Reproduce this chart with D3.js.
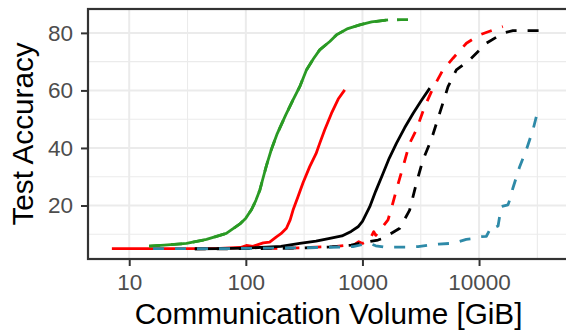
<!DOCTYPE html>
<html>
<head>
<meta charset="utf-8">
<script src="https://cdn.jsdelivr.net/npm/d3@7/dist/d3.min.js"></script>
<style>
  html, body { margin: 0; padding: 0; background: #ffffff; }
  svg { display: block; font-family: "Liberation Sans", Arial, Helvetica, sans-serif; }
</style>
</head>
<body>
<svg id="chart" width="566" height="331"></svg>
<script>
// ---- Data (communication volume in GiB, test accuracy in %) ----
const xTicks = [10, 100, 1000, 10000];
const xTickLabels = ["10", "100", "1000", "10000"];
const xMinor = [3.1623, 31.623, 316.23, 3162.3, 31623];
const yTicks = [20, 40, 60, 80];
const yTickLabels = ["20", "40", "60", "80"];
const yMinor = [10, 30, 50, 70, 90];

const greenSolid = [[14.8,5.9],[20,6.2],[31,6.8],[46,8.2],[68,10.3],[89,13.6],[100,15.6],[112,18.6],[122,21.8],[132,25.4],[140,29.3],[150,33.8],[165,39.3],[186,45],[220,51.5],[254,56.7],[290,61.3],[331,67.1],[380,71],[430,74.1],[525,77],[598,79.3],[750,81.5],[949,82.8],[1200,83.8],[1657,84.5]];
const greenDashedTail = [[2140,84.6],[2700,84.6]];
const redSolid = [[7.1,5.0],[15,5.0],[30,5.0],[60,5.1],[90,5.4],[101,6.1],[115,5.8],[141,7.0],[160,7.3],[183,9.1],[200,10.2],[223,12.1],[240,15],[254,18.4],[280,23],[310,28],[353,33.5],[400,38],[430,41.6],[475,46.3],[542,52],[620,57],[705,60.2]];
const redDashed = [[150,5.0],[300,5.3],[600,5.8],[850,6.4],[930,7.4],[1000,6.8],[1150,8.0],[1250,10.9],[1300,9.6],[1450,12],[1657,15],[1800,20],[1955,25.4],[2230,33.5],[2540,41.6],[2900,46.3],[3420,54.4],[4030,60.8],[4900,67.1],[5980,71.2],[7790,76.4],[10130,79.3],[13200,81],[16000,82.2]];
const blackSolid = [[36.5,4.9],[60,5.0],[100,5.2],[150,5.5],[200,5.8],[290,6.8],[400,7.6],[525,8.6],[667,9.4],[800,11],[917,12.6],[1000,14.5],[1156,19.6],[1300,25],[1504,31.2],[1700,36.5],[1955,41.6],[2300,47],[2716,52],[3200,56.5],[3780,60.8]];
const blackDashed = [[36.5,4.9],[100,5.0],[300,5.2],[525,5.6],[800,6.2],[1000,7.0],[1360,8.0],[1504,8.6],[2090,12.1],[2540,18.4],[2900,27.7],[3300,35.8],[3890,42.8],[4590,52],[5420,61.3],[6390,67.1],[8310,70.6],[11560,76.4],[16040,79.9],[19500,80.8],[29000,80.8],[38900,80.8]];
const blueDashed = [[16,5.0],[30,5.0],[60,5.0],[100,5.1],[200,5.2],[400,5.4],[700,5.6],[830,5.7],[1000,6.4],[1156,6.8],[1300,6.0],[1550,5.5],[2380,5.5],[3000,5.7],[3780,6.3],[4500,6.6],[5600,6.8],[6500,7.3],[7770,8.2],[9000,8.5],[10140,9.1],[11560,9.3],[12340,11.5],[13200,13.2],[14060,12.6],[14560,12.9],[15500,19.6],[16030,19.8],[17700,20.2],[18300,21.9],[19500,26],[22300,33.5],[25400,39.3],[29000,46.3],[31000,50.9],[33100,53.8]];

const xTitle = "Communication Volume [GiB]";
const yTitle = "Test Accuracy";

// ---- Layout ----
const W = 566, H = 331;
const panel = { left: 88, right: 571, top: 9, bottom: 259 };

const svg = d3.select("#chart");
svg.append("rect").attr("width", W).attr("height", H).attr("fill", "#ffffff");

const x = d3.scaleLog().domain([Math.pow(10, 0.6465), Math.pow(10, 4.7885)]).range([panel.left, panel.right]);
const y = d3.scaleLinear().domain([1.4, 88.3]).range([panel.bottom, panel.top]);

svg.append("defs").append("clipPath").attr("id", "clip")
  .append("rect").attr("x", panel.left).attr("y", panel.top)
  .attr("width", panel.right - panel.left).attr("height", panel.bottom - panel.top);

const grid = svg.append("g");
// minor grid
grid.selectAll("line.xm").data(xMinor.filter(v => x(v) > panel.left && x(v) < panel.right)).enter().append("line")
  .attr("x1", d => x(d)).attr("x2", d => x(d)).attr("y1", panel.top).attr("y2", panel.bottom)
  .attr("stroke", "#ebebeb").attr("stroke-width", 1.1);
grid.selectAll("line.ym").data(yMinor.filter(v => y(v) > panel.top && y(v) < panel.bottom)).enter().append("line")
  .attr("y1", d => y(d)).attr("y2", d => y(d)).attr("x1", panel.left).attr("x2", panel.right)
  .attr("stroke", "#ebebeb").attr("stroke-width", 1.1);
// major grid
grid.selectAll("line.xM").data(xTicks).enter().append("line")
  .attr("x1", d => x(d)).attr("x2", d => x(d)).attr("y1", panel.top).attr("y2", panel.bottom)
  .attr("stroke", "#ebebeb").attr("stroke-width", 2);
grid.selectAll("line.yM").data(yTicks).enter().append("line")
  .attr("y1", d => y(d)).attr("y2", d => y(d)).attr("x1", panel.left).attr("x2", panel.right)
  .attr("stroke", "#ebebeb").attr("stroke-width", 2);

// ---- Series ----
const line = d3.line().x(d => x(d[0])).y(d => y(d[1]));
const series = [
  { data: redSolid, color: "#ff0000", dash: null },
  { data: redDashed, color: "#ff0000", dash: "11,11" },
  { data: greenSolid.concat(greenDashedTail), color: "#2a9a24", dash: "11,11" },
  { data: greenSolid, color: "#2a9a24", dash: null },
  { data: blackSolid, color: "#000000", dash: null },
  { data: blackDashed, color: "#000000", dash: "11,11" },
  { data: blueDashed, color: "#2e8aa8", dash: "11,11" }
];
const lines = svg.append("g").attr("clip-path", "url(#clip)");
series.forEach(s => {
  lines.append("path").datum(s.data)
    .attr("d", line)
    .attr("fill", "none")
    .attr("stroke", s.color)
    .attr("stroke-width", 2.8)
    .attr("stroke-linejoin", "round")
    .attr("stroke-dasharray", s.dash);
});

// ---- Panel border ----
svg.append("rect")
  .attr("x", panel.left).attr("y", panel.top)
  .attr("width", panel.right - panel.left).attr("height", panel.bottom - panel.top)
  .attr("fill", "none").attr("stroke", "#333333").attr("stroke-width", 2.2);

// ---- Axes ----
const xAxis = d3.axisBottom(x).tickValues(xTicks).tickFormat((d, i) => xTickLabels[i]).tickSize(7).tickPadding(8);
const gx = svg.append("g").attr("transform", `translate(0,${panel.bottom})`).call(xAxis);
gx.select(".domain").remove();
gx.selectAll(".tick line").attr("stroke", "#333333").attr("stroke-width", 2);
gx.selectAll(".tick text").attr("fill", "#4d4d4d").style("font-size", "22.5px")
  .style("font-family", "Liberation Sans, Arial, sans-serif");

const yAxis = d3.axisLeft(y).tickValues(yTicks).tickFormat((d, i) => yTickLabels[i]).tickSize(7).tickPadding(8);
const gy = svg.append("g").attr("transform", `translate(${panel.left},0)`).call(yAxis);
gy.select(".domain").remove();
gy.selectAll(".tick line").attr("stroke", "#333333").attr("stroke-width", 2);
gy.selectAll(".tick text").attr("fill", "#4d4d4d").style("font-size", "22.5px")
  .style("font-family", "Liberation Sans, Arial, sans-serif");

// ---- Titles ----
svg.append("text")
  .attr("x", (panel.left + panel.right) / 2 - 1).attr("y", 324)
  .attr("text-anchor", "middle").attr("fill", "#000000")
  .style("font-size", "29.7px").text(xTitle);
svg.append("text")
  .attr("transform", `translate(33,${(panel.top + panel.bottom) / 2}) rotate(-90)`)
  .attr("text-anchor", "middle").attr("fill", "#000000")
  .style("font-size", "29.7px").text(yTitle);
</script>
</body>
</html>
